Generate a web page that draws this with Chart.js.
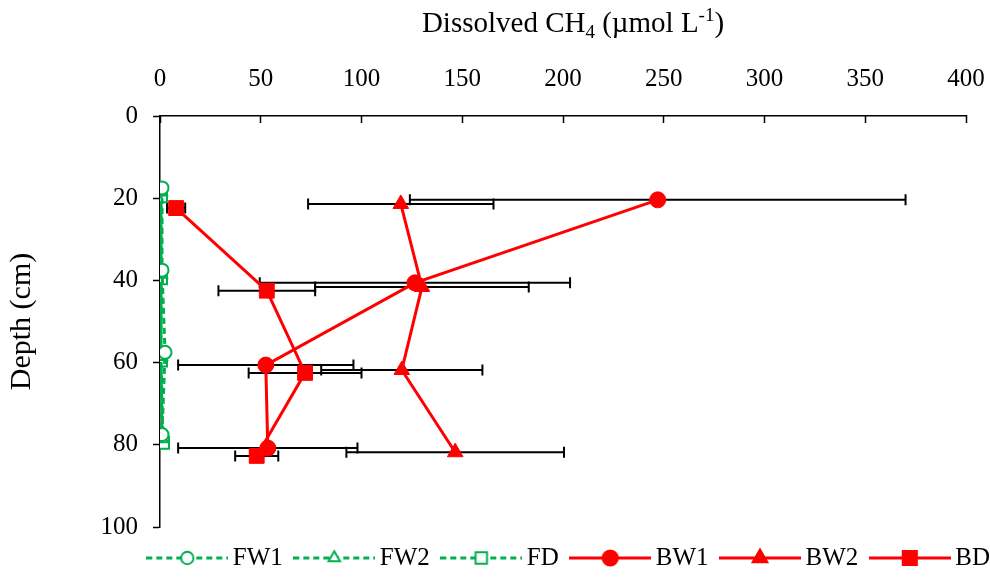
<!DOCTYPE html>
<html>
<head>
<meta charset="utf-8">
<script src="https://cdn.jsdelivr.net/npm/chart.js@4.4.1/dist/chart.umd.min.js"></script>
<style>
  html, body { margin: 0; padding: 0; background: #fff; }
  #wrap { width: 990px; height: 579px; }
</style>
</head>
<body>
<div id="wrap"><canvas id="ch4Chart"></canvas></div>
<script>
// --- DATA ---
const xTicks = [0, 50, 100, 150, 200, 250, 300, 350, 400];
const yTicks = [0, 20, 40, 60, 80, 100];

const fw1Ch4 = [1, 1, 2.5, 1];
const fw1Depth = [17.5, 37.5, 57.5, 77.5];
const fw2Ch4 = [0.5, 0.5, 0.5, 1];
const fw2Depth = [18.5, 38.5, 58.5, 78.5];
const fdCh4 = [0.5, 0.5, 0.5, 1.5];
const fdDepth = [19.5, 39.5, 59.5, 79.5];

const bw1Ch4 = [247, 126.5, 52.5, 53.5];
const bw1Err = [123, 77, 43.5, 44.5];
const bw1Depth = [20.4, 40.6, 60.6, 80.8];
const bw2Ch4 = [119.5, 130, 120, 146.5];
const bw2Err = [46, 53, 40, 54];
const bw2Depth = [21.4, 41.6, 61.8, 81.8];
const bdCh4 = [8, 53, 72, 48];
const bdErr = [4.5, 24, 28, 10.7];
const bdDepth = [22.4, 42.5, 62.5, 82.7];

const GREEN = '#00B050';
const RED = '#FF0000';
const FONT = '"Liberation Serif", "Times New Roman", serif';

const toPoints = (xs, ys) => xs.map((x, i) => ({ x: x, y: ys[i] }));

function series(label, xs, ys, errs, color, dashed, style, filled, radius) {
    return {
        label: label,
        data: toPoints(xs, ys),
        errorBars: errs,
        showLine: true,
        borderColor: color,
        borderWidth: 3,
        borderDash: dashed ? [6, 4] : [],
        tension: 0,
        pointStyle: style,
        pointRadius: radius,
        pointHoverRadius: radius,
        pointBackgroundColor: filled ? color : '#fff',
        pointBorderColor: color,
        pointBorderWidth: filled ? 1 : 2,
        _legend: { color, dashed, style, filled, radius }
    };
}

const datasets = [
    series('FW1', fw1Ch4, fw1Depth, null, GREEN, true, 'circle', false, 6.5),
    series('FW2', fw2Ch4, fw2Depth, null, GREEN, true, 'triangle', false, 7),
    series('FD', fdCh4, fdDepth, null, GREEN, true, 'rect', false, 8.5),
    series('BW1', bw1Ch4, bw1Depth, bw1Err, RED, false, 'circle', true, 8),
    series('BW2', bw2Ch4, bw2Depth, bw2Err, RED, false, 'triangle', true, 9),
    series('BD', bdCh4, bdDepth, bdErr, RED, false, 'rect', true, 10.5)
];

// legend sample: line with the marker in the middle
function legendIcon(o) {
    const c = document.createElement('canvas');
    c.width = 82; c.height = 28;
    const ctx = c.getContext('2d');
    ctx.strokeStyle = o.color;
    ctx.lineWidth = 3;
    ctx.setLineDash(o.dashed ? [6, 4] : []);
    ctx.beginPath(); ctx.moveTo(0, 14); ctx.lineTo(82, 14); ctx.stroke();
    ctx.setLineDash([]);
    ctx.fillStyle = o.filled ? o.color : '#fff';
    ctx.lineWidth = 2;
    Chart.helpers.drawPoint(ctx, { pointStyle: o.style, radius: o.radius * 0.95, borderWidth: 2, rotation: 0 }, 41, 14);
    return c;
}
const legendIcons = datasets.map(ds => legendIcon(ds._legend));

// horizontal error bars, placed through the chart scales
const errorBarPlugin = {
    id: 'errorBars',
    beforeDatasetsDraw(chart) {
        const ctx = chart.ctx;
        const xs = chart.scales.x, ys = chart.scales.y;
        ctx.save();
        ctx.strokeStyle = '#000';
        ctx.lineWidth = 2;
        chart.data.datasets.forEach(ds => {
            if (!ds.errorBars) return;
            ds.data.forEach((p, i) => {
                const e = ds.errorBars[i];
                const x0 = xs.getPixelForValue(p.x - e);
                const x1 = xs.getPixelForValue(p.x + e);
                const y = ys.getPixelForValue(p.y);
                ctx.beginPath();
                ctx.moveTo(x0, y); ctx.lineTo(x1, y);
                ctx.moveTo(x0, y - 5.5); ctx.lineTo(x0, y + 5.5);
                ctx.moveTo(x1, y - 5.5); ctx.lineTo(x1, y + 5.5);
                ctx.stroke();
            });
        });
        ctx.restore();
    }
};

// top axis title with subscript / superscript
const topTitlePlugin = {
    id: 'topTitle',
    afterDraw(chart) {
        const ctx = chart.ctx;
        const parts = [
            { t: 'Dissolved CH', size: 29, dy: 0 },
            { t: '4', size: 19, dy: 6 },
            { t: ' (\u00b5mol L', size: 29, dy: 0 },
            { t: '-1', size: 19, dy: -11 },
            { t: ')', size: 29, dy: 0 }
        ];
        ctx.save();
        ctx.fillStyle = '#000';
        ctx.textBaseline = 'alphabetic';
        let total = 0;
        parts.forEach(p => { ctx.font = p.size + 'px ' + FONT; p.w = ctx.measureText(p.t).width; total += p.w; });
        const area = chart.chartArea;
        let x = (area.left + area.right) / 2 + 10 - total / 2;
        const base = 32;
        parts.forEach(p => {
            ctx.font = p.size + 'px ' + FONT;
            ctx.fillText(p.t, x, base + p.dy);
            x += p.w;
        });
        ctx.restore();
    }
};

new Chart(document.getElementById('ch4Chart'), {
    type: 'scatter',
    data: { datasets: datasets },
    plugins: [errorBarPlugin, topTitlePlugin],
    options: {
        responsive: true,
        maintainAspectRatio: false,
        animation: false,
        layout: { padding: { left: 0, top: 0, right: -18.5, bottom: -1.5 } },
        plugins: {
            tooltip: { enabled: false },
            legend: {
                position: 'bottom',
                align: 'end',
                labels: {
                    usePointStyle: true,
                    pointStyleWidth: 66,
                    padding: 18.5,
                    color: '#000',
                    font: { family: FONT, size: 25 },
                    generateLabels: chart => chart.data.datasets.map((ds, i) => ({
                        text: ds.label,
                        pointStyle: legendIcons[i],
                        datasetIndex: i,
                        hidden: false,
                        lineWidth: 0,
                        fontColor: '#000'
                    }))
                }
            }
        },
        scales: {
            x: {
                type: 'linear',
                position: 'top',
                min: xTicks[0],
                max: xTicks[xTicks.length - 1],
                afterBuildTicks: s => { s.ticks = xTicks.map(v => ({ value: v })); },
                afterFit: s => { s.height = 116; s.paddingRight = 24; },
                ticks: { color: '#000', font: { family: FONT, size: 25 }, padding: 29, maxRotation: 0 },
                grid: { drawOnChartArea: false, tickLength: -7, tickWidth: 1.5, tickColor: '#000' },
                border: { display: true, color: '#000', width: 1.5 },
                title: { display: false }
            },
            y: {
                type: 'linear',
                reverse: true,
                min: yTicks[0],
                max: yTicks[yTicks.length - 1],
                afterBuildTicks: s => { s.ticks = yTicks.map(v => ({ value: v })); },
                afterFit: s => { s.width = 160; },
                ticks: { color: '#000', font: { family: FONT, size: 25 }, padding: 15 },
                grid: { drawOnChartArea: false, tickLength: 7, tickWidth: 1.5, tickColor: '#000' },
                border: { display: true, color: '#000', width: 1.5 },
                title: { display: true, text: 'Depth (cm)', color: '#000', font: { family: FONT, size: 30 }, padding: { top: 4 } }
            }
        }
    }
});
</script>
</body>
</html>
